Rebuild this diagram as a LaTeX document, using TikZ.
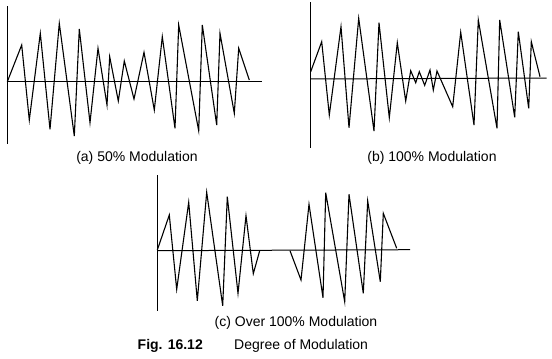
\documentclass[tikz,border=0pt]{standalone}
\usepackage{fontspec}
\setmainfont{Liberation Sans}
\begin{document}
\begin{tikzpicture}[x=1pt,y=-1pt,
  axis/.style={line width=1pt,black},
  wave/.style={line width=1.1pt,black,line join=miter},
  lbl/.style={font=\fontsize{14}{16}\selectfont,inner sep=0pt}]
\useasboundingbox (0,0) rectangle (552,359);
% panel (a)
\draw[axis] (7,6) -- (7,144);
\draw[axis] (7,81) -- (262,81);
\draw[wave] (7.3,81.7) -- (21.7,45) -- (29.3,120) -- (40.3,33.3) -- (50,129.3) -- (59.3,23.3) -- (74.3,136) -- (79.3,29) -- (90,122.7) -- (98,48.3) -- (107,105) -- (109.7,56.7) -- (118.3,101) -- (124.3,61) -- (134,99) -- (144,52.3) -- (154.3,110) -- (162.3,36.7) -- (175,128.3) -- (178.7,25) -- (198.7,130.7) -- (202.3,25) -- (216.7,125) -- (220,33.3) -- (234.3,113.3) -- (238.7,48.3) -- (249.3,80);
\node[lbl] (la) at (137,158) {(a) 50\% Modulation};
% panel (b)
\draw[axis] (310.5,2) -- (310.5,148);
\draw[axis] (310.5,79) -- (546.7,78);
\draw[wave] (310.7,71.7) -- (321.7,41.7) -- (329.3,115) -- (341,26.7) -- (349,127.7) -- (358.7,18.3) -- (374,131) -- (379,22.7) -- (389.3,117.7) -- (397.3,42.7) -- (405.7,101) -- (410.7,70.7) -- (415.7,82.7) -- (419.3,71.7) -- (424.7,85.3) -- (430,70) -- (433.3,90) -- (437,71) -- (452.7,106.7) -- (460.7,32.3) -- (474,125) -- (478.3,20) -- (497,128.3) -- (499.7,20) -- (514.7,117.3) -- (518.3,31.7) -- (528.7,108.3) -- (531.3,41.7) -- (540,76.7);
\node[lbl] (lb) at (432,158) {(b) 100\% Modulation};
% panel (c)
\draw[axis] (157.3,175) -- (157.3,311);
\draw[axis] (157.3,250.7) -- (410,249.7);
\draw[wave] (157.3,250) -- (169.3,215) -- (176.7,289.3) -- (188.7,202.3) -- (197.3,300.7) -- (206.7,192.3) -- (222.7,305.7) -- (227.3,196.7) -- (238,293.3) -- (246,215.7) -- (253.3,273.7) -- (259.7,250.7);
\draw[wave] (290,250.7) -- (301,280) -- (309,204.3) -- (323,297.7) -- (325.7,192.7) -- (344.7,301.7) -- (349,194.3) -- (363.3,293.3) -- (367.7,201) -- (380.3,281.7) -- (383.3,213.3) -- (396.7,248.3);
\node[lbl] (lc) at (296,323) {(c) Over 100\% Modulation};
\node[lbl,font=\fontsize{14}{16}\selectfont\bfseries,anchor=east] (fig) at (203,346) {Fig. 16.12};
\node[lbl,anchor=west] (cap) at (234,346) {Degree of Modulation};
\end{tikzpicture}
\end{document}
